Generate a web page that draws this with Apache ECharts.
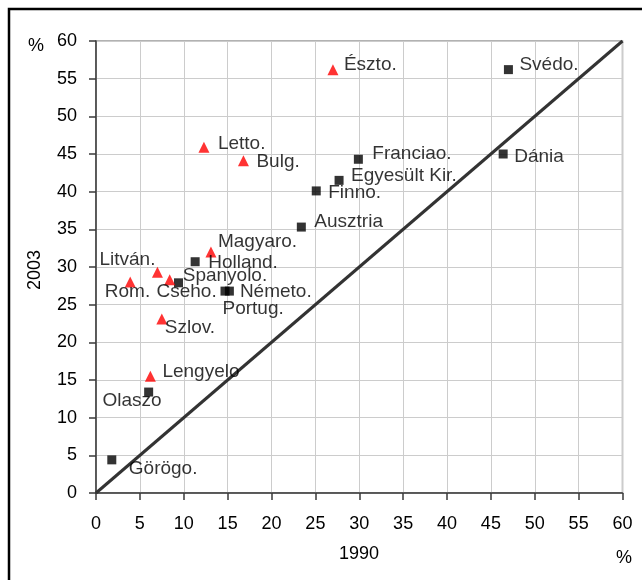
<!DOCTYPE html>
<html>
<head>
<meta charset="utf-8">
<script src="https://cdn.jsdelivr.net/npm/echarts@6/dist/echarts.min.js"></script>
<style>
html,body{margin:0;padding:0;background:#fff;}
#chart{width:642px;height:580px;}
</style>
</head>
<body>
<div id="chart"></div>
<script>
// ---- data ----
var squareNames = ['Svédo.', 'Dánia', 'Franciao.', 'Egyesült Kir.', 'Finno.', 'Ausztria', 'Holland.', 'Cseho.', 'Portug.', 'Németo.', 'Olaszo', 'Görögo.'];
var squareX1990 = [47.0, 46.4, 29.9, 27.7, 25.1, 23.4, 11.3, 9.4, 14.7, 15.2, 6.0, 1.8];
var squareY2003 = [56.2, 45.0, 44.3, 41.5, 40.1, 35.3, 30.7, 27.9, 26.8, 26.8, 13.4, 4.4];

var triNames = ['Észto.', 'Letto.', 'Bulg.', 'Magyaro.', 'Litván.', 'Spanyolo.', 'Rom.', 'Szlov.', 'Lengyelo'];
var triX1990 = [27.0, 12.3, 16.8, 13.1, 7.0, 8.4, 3.9, 7.5, 6.2];
var triY2003 = [56.2, 45.9, 44.1, 32.0, 29.3, 28.3, 28.0, 23.1, 15.5];

var diagX = [0, 60];
var diagY = [0, 60];

var tickValues = [0, 5, 10, 15, 20, 25, 30, 35, 40, 45, 50, 55, 60];

// ---- label placement (style only) ----
var labelStyle = {
  'Svédo.': {pos: 'right', off: [6.5, -5]},
  'Dánia': {pos: 'right', off: [6.5, 3]},
  'Franciao.': {pos: 'right', off: [9.5, -6]},
  'Egyesült Kir.': {pos: 'right', off: [7.5, -5]},
  'Finno.': {pos: 'right', off: [7.5, 2]},
  'Ausztria': {pos: 'right', off: [8.5, -5]},
  'Holland.': {pos: 'right', off: [8.5, 1]},
  'Cseho.': {pos: 'right', off: [-26.5, 9]},
  'Portug.': {pos: 'right', off: [-7, 18]},
  'Németo.': {pos: 'right', off: [6, 1]},
  'Olaszo': {pos: 'left', off: [17.5, 9]},
  'Görögo.': {pos: 'right', off: [12.5, 9]},
  'Észto.': {pos: 'right', off: [5.5, -5]},
  'Letto.': {pos: 'right', off: [8.5, -3]},
  'Bulg.': {pos: 'right', off: [7.5, 1]},
  'Magyaro.': {pos: 'right', off: [1.5, -10]},
  'Litván.': {pos: 'left', off: [3.5, -13]},
  'Spanyolo.': {pos: 'right', off: [7.5, -4]},
  'Rom.': {pos: 'left', off: [25.5, 10]},
  'Szlov.': {pos: 'right', off: [-2.5, 9]},
  'Lengyelo': {pos: 'right', off: [6.5, -4]}
};

function buildPoints(names, xs, ys) {
  return names.map(function (n, i) {
    var ls = labelStyle[n];
    return {
      name: n,
      value: [xs[i], ys[i]],
      label: {position: ls.pos, offset: ls.off}
    };
  });
}

var FONT = '"Liberation Sans", Arial, sans-serif';
var chart = echarts.init(document.getElementById('chart'), null, {renderer: 'canvas'});

var axisCommon = {
  type: 'value',
  min: 0,
  max: 60,
  interval: 5,
  axisLine: {show: true, onZero: false, lineStyle: {color: '#3a3a3a', width: 1.5}},
  axisTick: {show: true, inside: false, length: 7, lineStyle: {color: '#3a3a3a', width: 1.5}},
  splitLine: {show: true, lineStyle: {color: '#cccccc', width: 1}},
  axisLabel: {color: '#000', fontFamily: FONT, fontSize: 18}
};

var option = {
  backgroundColor: '#fff',
  animation: false,
  grid: {
    left: 96, right: 19.5, top: 41, bottom: 87,
    show: true, borderColor: '#999', borderWidth: 1.5, backgroundColor: 'transparent'
  },
  xAxis: echarts.util.merge({axisLabel: {margin: 22}}, axisCommon, true),
  yAxis: echarts.util.merge({axisLabel: {margin: 19}}, axisCommon, true),
  graphic: [
    {type: 'rect', shape: {x: 9, y: 9, width: 800, height: 800},
     style: {fill: 'none', stroke: '#000', lineWidth: 2.5}, silent: true, z: 100},
    {type: 'text', x: 36, y: 46, style: {text: '%', font: '18px ' + FONT, fill: '#000', align: 'center', verticalAlign: 'middle'}},
    {type: 'text', x: 624, y: 558, style: {text: '%', font: '18px ' + FONT, fill: '#000', align: 'center', verticalAlign: 'middle'}},
    {type: 'text', x: 359, y: 554, style: {text: '1990', font: '18px ' + FONT, fill: '#000', align: 'center', verticalAlign: 'middle'}},
    {type: 'text', x: 35, y: 270, rotation: Math.PI / 2, style: {text: '2003', font: '18px ' + FONT, fill: '#000', align: 'center', verticalAlign: 'middle'}}
  ],
  series: [
    {
      type: 'line',
      data: diagX.map(function (x, i) { return [x, diagY[i]]; }),
      symbol: 'none',
      lineStyle: {color: '#333', width: 3},
      silent: true,
      z: 2
    },
    {
      type: 'scatter',
      data: buildPoints(squareNames, squareX1990, squareY2003),
      symbol: 'rect',
      symbolSize: 9,
      itemStyle: {color: '#000'},
      label: {show: true, formatter: '{b}', color: '#000', fontFamily: FONT, fontSize: 19, distance: 0},
      z: 3
    },
    {
      type: 'scatter',
      data: buildPoints(triNames, triX1990, triY2003),
      symbol: 'triangle',
      symbolSize: 11,
      itemStyle: {color: '#ff0000'},
      label: {show: true, formatter: '{b}', color: '#000', fontFamily: FONT, fontSize: 19, distance: 0},
      z: 3
    }
  ]
};
chart.setOption(option);
</script>
</body>
</html>
